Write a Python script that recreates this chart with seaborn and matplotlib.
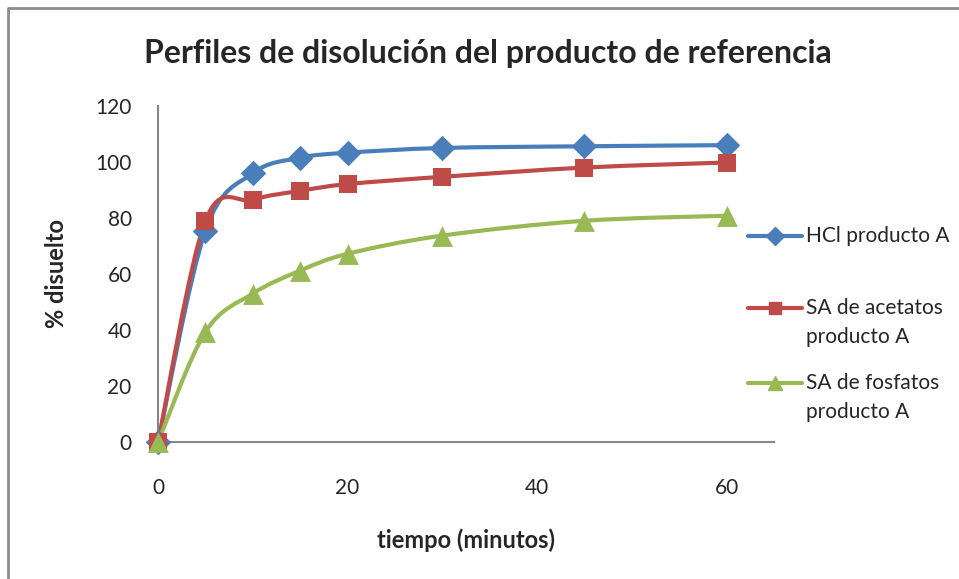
import numpy as np
import pandas as pd
import matplotlib
matplotlib.use('Agg')
import matplotlib.pyplot as plt
import seaborn as sns
from matplotlib.path import Path
from matplotlib.patches import PathPatch
from matplotlib.lines import Line2D

# datos
tiempo = [0, 5, 10, 15, 20, 30, 45, 60]
hcl = [0, 75.5, 96, 101.5, 103.3, 105, 105.6, 106]
acetatos = [0, 79, 86.5, 89.7, 92.1, 94.7, 98, 99.8]
fosfatos = [0, 39.3, 53, 61.2, 67.2, 73.7, 79, 80.8]

nombres = ['HCl producto A', 'SA de acetatos\nproducto A', 'SA de fosfatos\nproducto A']
colores = ['#4A7EBB', '#BE4B48', '#98B954']
marcadores = ['D', 's', '^']
tamanos = [13, 13, 15]

df = pd.DataFrame({'tiempo': tiempo * 3,
                   'valor': hcl + acetatos + fosfatos,
                   'serie': [n for n in nombres for _ in tiempo]})

sns.set_style('white')
plt.rcParams['font.family'] = ['Lato', 'DejaVu Sans']

fig = plt.figure(figsize=(9.59, 5.79), dpi=100)
ax = fig.add_axes([0.1648, 0.2366, 0.807 - 0.1648, 0.817 - 0.2366])


def curva_suave(xs, ys):
    # bezier tipo Excel (linea suavizada)
    pts = np.column_stack([xs, ys]).astype(float)
    n = len(pts)
    verts = [pts[0]]
    codes = [Path.MOVETO]
    for i in range(n - 1):
        p0 = pts[i - 1] if i > 0 else pts[i]
        p1 = pts[i]
        p2 = pts[i + 1]
        p3 = pts[i + 2] if i + 2 < n else pts[i + 1]
        c1 = p1 + (p2 - p0) / 6
        c2 = p2 - (p3 - p1) / 6
        verts += [c1, c2, p2]
        codes += [Path.CURVE4] * 3
    return Path(verts, codes)


for nombre, color in zip(nombres, colores):
    sub = df[df['serie'] == nombre]
    patch = PathPatch(curva_suave(sub['tiempo'], sub['valor']), facecolor='none',
                      edgecolor=color, lw=3, transform=ax.transData, zorder=2,
                      clip_on=False)
    ax.add_patch(patch)

for nombre, color, m, s in zip(nombres, colores, marcadores, tamanos):
    sub = df[df['serie'] == nombre]
    sns.scatterplot(data=sub, x='tiempo', y='valor', marker=m, color=color,
                    s=s ** 2, linewidth=0, ax=ax, zorder=3, clip_on=False,
                    legend=False)

ax.set_xlim(0, 65)
ax.set_ylim(0, 120)
ax.set_xticks([0, 20, 40, 60])
ax.set_yticks(range(0, 121, 20))
ax.tick_params(axis='x', labelsize=15, pad=26, length=0)
ax.tick_params(axis='y', labelsize=15, pad=19, length=0)
for lado in ['top', 'right']:
    ax.spines[lado].set_visible(False)
for lado in ['left', 'bottom']:
    ax.spines[lado].set_color('#868686')
    ax.spines[lado].set_linewidth(1.5)

ax.set_xlabel('tiempo (minutos)', fontsize=17, fontweight='bold', labelpad=22)
ax.set_ylabel('% disuelto', fontsize=17, fontweight='bold', labelpad=20)
fig.text(0.509, 0.908, 'Perfiles de disolución del producto de referencia',
         ha='center', va='center', fontsize=23, fontweight='bold')

# leyenda manual
W, H = 959, 579
ley_y = [236, 308, 383]
for nombre, color, m, s, y in zip(nombres, colores, marcadores, tamanos, ley_y):
    fig.add_artist(Line2D([748 / W, 802 / W], [1 - y / H, 1 - y / H],
                          transform=fig.transFigure, color=color, lw=3))
    fig.add_artist(Line2D([775 / W], [1 - y / H], transform=fig.transFigure,
                          color=color, marker=m, markersize=s * 0.7, lw=0))
    fig.text(806 / W, 1 - y / H, nombre.split('\n')[0], ha='left', va='center',
             fontsize=15)
    if '\n' in nombre:
        fig.text(806 / W, 1 - (y + 29) / H, nombre.split('\n')[1], ha='left',
                 va='center', fontsize=15)

# borde del area del grafico
fig.add_artist(Line2D([8 / W, 8 / W, 1.0], [0.0, 1 - 8 / H, 1 - 8 / H],
                      transform=fig.transFigure, color='#8C8C8C', lw=2))

fig.savefig('out.png', dpi=100)
